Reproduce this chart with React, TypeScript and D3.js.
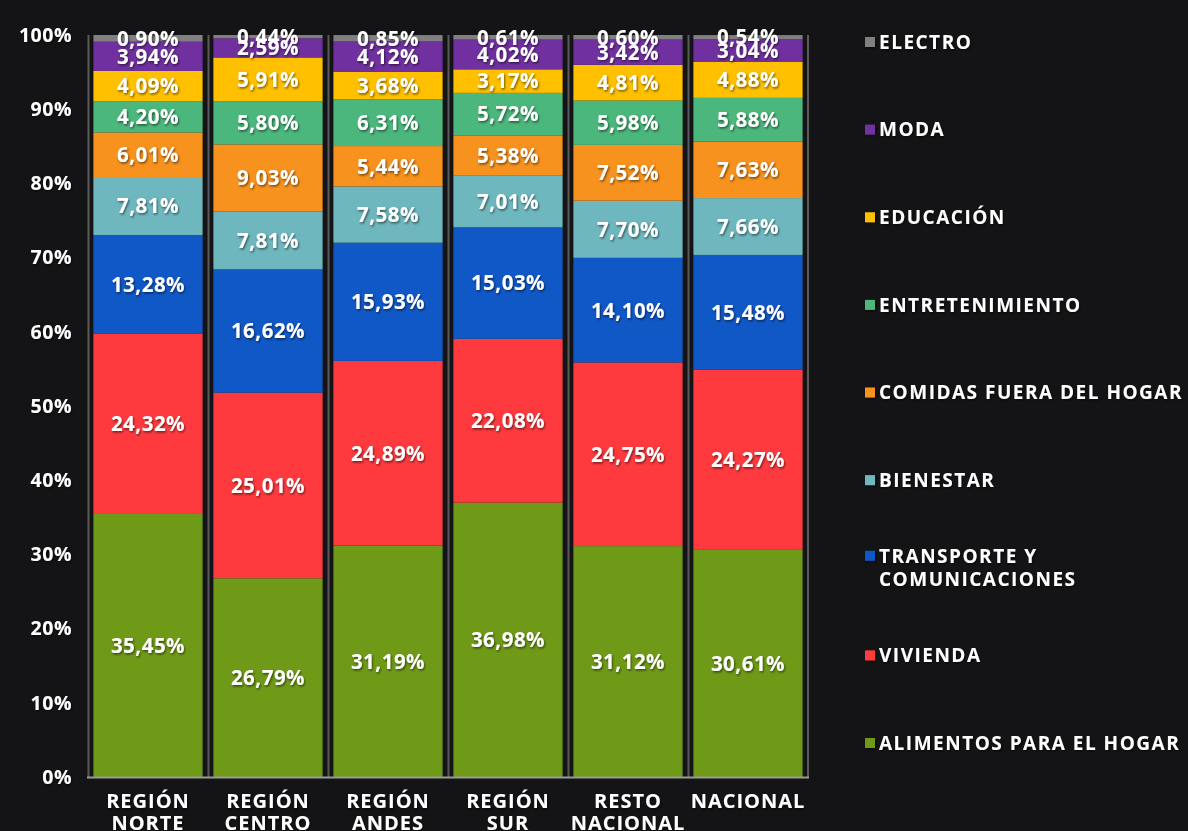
import React from "react";
import * as d3 from "d3";

const categories = ["REGIÓN NORTE", "REGIÓN CENTRO", "REGIÓN ANDES", "REGIÓN SUR", "RESTO NACIONAL", "NACIONAL"];
const categoryLines = [["REGIÓN", "NORTE"], ["REGIÓN", "CENTRO"], ["REGIÓN", "ANDES"], ["REGIÓN", "SUR"], ["RESTO", "NACIONAL"], ["NACIONAL"]];

const seriesNames = [
  "ALIMENTOS PARA EL HOGAR",
  "VIVIENDA",
  "TRANSPORTE Y COMUNICACIONES",
  "BIENESTAR",
  "COMIDAS FUERA DEL HOGAR",
  "ENTRETENIMIENTO",
  "EDUCACIÓN",
  "MODA",
  "ELECTRO",
];
const seriesColors = ["#6f9a18", "#ff3a3e", "#1158c7", "#6fb7bf", "#f7921e", "#4cb77c", "#ffc000", "#7030a0", "#808080"];

const alimentos = [35.45, 26.79, 31.19, 36.98, 31.12, 30.61];
const vivienda = [24.32, 25.01, 24.89, 22.08, 24.75, 24.27];
const transporte = [13.28, 16.62, 15.93, 15.03, 14.1, 15.48];
const bienestar = [7.81, 7.81, 7.58, 7.01, 7.7, 7.66];
const comidas = [6.01, 9.03, 5.44, 5.38, 7.52, 7.63];
const entretenimiento = [4.2, 5.8, 6.31, 5.72, 5.98, 5.88];
const educacion = [4.09, 5.91, 3.68, 3.17, 4.81, 4.88];
const moda = [3.94, 2.59, 4.12, 4.02, 3.42, 3.04];
const electro = [0.9, 0.44, 0.85, 0.61, 0.6, 0.54];

const seriesValues = [alimentos, vivienda, transporte, bienestar, comidas, entretenimiento, educacion, moda, electro];
const yTicks = [0, 10, 20, 30, 40, 50, 60, 70, 80, 90, 100];

const W = 1188;
const H = 831;
const font = "'Open Sans', Lato, sans-serif";

export default function App() {
  const x = d3.scaleBand().domain(categories).range([88, 808]).paddingInner(0.09).paddingOuter(0.045);
  const step = x.step();
  const y = d3.scaleLinear().domain([0, 100]).range([777, 35]);

  const rows = categories.map((c, i) => {
    const r: Record<string, any> = { cat: c };
    seriesNames.forEach((s, k) => (r[s] = seriesValues[k][i]));
    return r;
  });
  const stacked = d3.stack<any>().keys(seriesNames)(rows);
  const fmt = (v: number) => v.toFixed(2).replace(".", ",") + "%";

  const legendY = d3.scalePoint().domain(seriesNames.slice().reverse()).range([42, 743]);

  return (
    <svg width={W} height={H} style={{ position: "absolute", left: 0, top: 0, background: "#141416" }}>
      <defs>
        <filter id="sh" x="-10%" y="-20%" width="130%" height="150%">
          <feDropShadow dx="1" dy="1.5" stdDeviation="0.8" floodColor="#000" floodOpacity="0.55" />
        </filter>
      </defs>
      <rect width={W} height={H} fill="#141416" />
      {categories.map((c, i) => (
        <line key={"g" + i} x1={88 + i * step + 0.5} x2={88 + i * step + 0.5} y1={y(100)} y2={y(0)} stroke="#5a5a5a" strokeWidth={2} />
      ))}
      <line x1={88 + categories.length * step} x2={88 + categories.length * step} y1={y(100)} y2={y(0)} stroke="#5a5a5a" strokeWidth={2} />
      {stacked.map((layer, k) => (
        <g key={layer.key}>
          {layer.map((d, i) => (
            <rect key={i} x={x(categories[i])} width={x.bandwidth()} y={y(d[1])} height={y(d[0]) - y(d[1])} fill={seriesColors[k]} />
          ))}
        </g>
      ))}
      <line x1={87} x2={809} y1={y(0) + 0.5} y2={y(0) + 0.5} stroke="#9a9a9a" strokeWidth={2} />
      <g filter="url(#sh)" fill="#fff" fontFamily={font} fontWeight={700}>
        {stacked.map((layer, k) =>
          layer.map((d, i) => (
            <text key={k + "-" + i} x={x(categories[i])! + x.bandwidth() / 2} y={(y(d[0]) + y(d[1])) / 2} dy="0.36em" textAnchor="middle" fontSize={20.5} letterSpacing={0.5}>
              {fmt(seriesValues[k][i])}
            </text>
          ))
        )}
        {yTicks.map((t) => (
          <text key={t} x={72} y={y(t)} dy="0.35em" textAnchor="end" fontSize={19.5} letterSpacing={0.5}>
            {t}%
          </text>
        ))}
        {categoryLines.map((lines, i) =>
          lines.map((l, j) => (
            <text key={i + "-" + j} x={x(categories[i])! + x.bandwidth() / 2} y={808 + j * 22} textAnchor="middle" fontSize={20} letterSpacing={1}>
              {l}
            </text>
          ))
        )}
        {seriesNames.map((s, k) => {
          const ly = legendY(s)!;
          const lines = s === "TRANSPORTE Y COMUNICACIONES" ? ["TRANSPORTE Y", "COMUNICACIONES"] : [s];
          const top = lines.length > 1 ? ly - 12 : ly;
          return (
            <g key={s}>
              <rect x={865} y={top - 5} width={10} height={10} fill={seriesColors[k]} />
              {lines.map((l, j) => (
                <text key={j} x={879} y={top + j * 23} dy="0.36em" fontSize={19} letterSpacing={1.5}>
                  {l}
                </text>
              ))}
            </g>
          );
        })}
      </g>
    </svg>
  );
}
